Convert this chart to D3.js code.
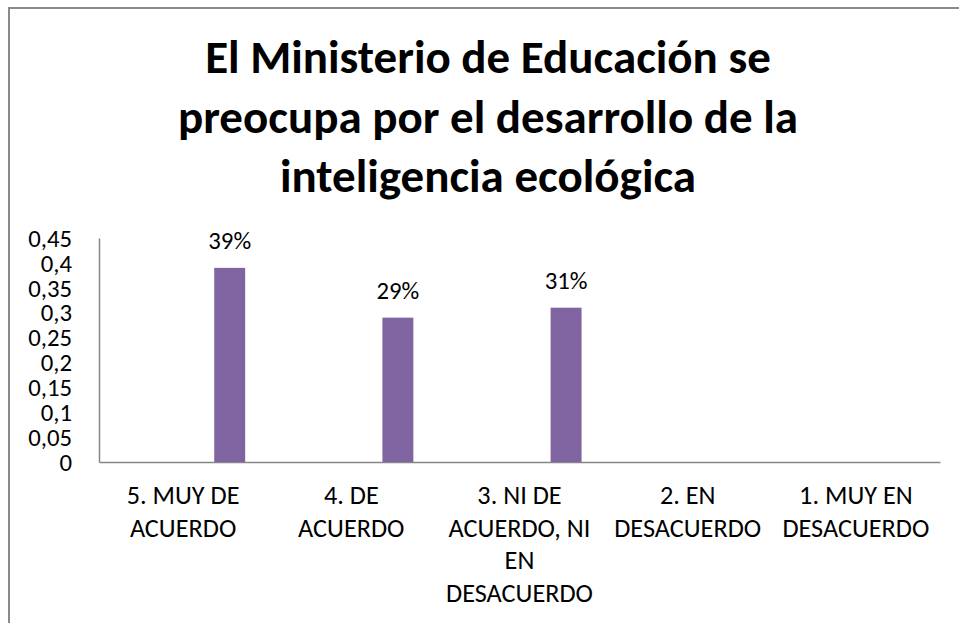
<!DOCTYPE html>
<html>
<head>
<meta charset="utf-8">
<title>Inteligencia ecológica</title>
<script src="https://cdn.jsdelivr.net/npm/d3@7"></script>
<style>
  body { margin: 0; background: #fff; }
  svg text { font-family: Carlito, Calibri, Roboto, sans-serif; fill: #000; }
</style>
</head>
<body>
<script>
// chart data
const titleLines = ["El Ministerio de Educación se", "preocupa por el desarrollo de la", "inteligencia ecológica"];
const categories = ["5. MUY DE ACUERDO", "4. DE ACUERDO", "3. NI DE ACUERDO, NI EN DESACUERDO", "2. EN DESACUERDO", "1. MUY EN DESACUERDO"];
const categoryLines = [["5. MUY DE", "ACUERDO"], ["4. DE", "ACUERDO"], ["3. NI DE", "ACUERDO, NI", "EN", "DESACUERDO"], ["2. EN", "DESACUERDO"], ["1. MUY EN", "DESACUERDO"]];
const values = [0.39, 0.29, 0.31, null, null];
const valueLabels = ["39%", "29%", "31%", "", ""];
const yTicks = [0, 0.05, 0.1, 0.15, 0.2, 0.25, 0.3, 0.35, 0.4, 0.45];

const W = 959, H = 623;
const plot = {left: 99, right: 940, top: 238, bottom: 462};
const axisColor = "#868686",
    barColor = "#8064a2";

const svg = d3.select("body").append("svg")
    .attr("width", W)
    .attr("height", H);

svg.append("rect").attr("width", W).attr("height", H).attr("fill", "#fff");

// outer frame (only top and left edges are visible)
svg.append("path")
    .attr("d", "M9," + H + "V8H" + W)
    .attr("fill", "none")
    .attr("stroke", "#8a8a8a")
    .attr("stroke-width", 2);

const x = d3.scaleBand().domain(categories).range([plot.left, plot.right]),
    y = d3.scaleLinear().domain([0, 0.45]).range([plot.bottom, plot.top]);

const fmt = d => String(d).replace(".", ",");

// title
const title = svg.append("g").attr("class", "title");
title.selectAll("text")
    .data(titleLines)
    .enter().append("text")
    .attr("x", 488)
    .attr("y", (d, i) => 73 + i * 59.5)
    .attr("text-anchor", "middle")
    .style("font-size", "47px")
    .style("font-weight", "bold")
    .text(d => d);

// y axis
const yAxisGroup = svg.append("g")
    .attr("transform", "translate(" + plot.left + ",0)")
    .call(d3.axisLeft(y).tickValues(yTicks).tickSize(0).tickPadding(27).tickFormat(fmt));
yAxisGroup.select(".domain").attr("stroke", axisColor).attr("stroke-width", 1.5);
yAxisGroup.selectAll("text")
    .attr("font-family", null)
    .attr("class", "small")
    .style("font-size", "25px")
    .attr("dy", "0.33em");

// x axis
const xAxisGroup = svg.append("g")
    .attr("transform", "translate(0," + plot.bottom + ")")
    .call(d3.axisBottom(x).tickSize(0).tickSizeOuter(0).tickFormat(""));
xAxisGroup.select(".domain").attr("stroke", axisColor).attr("stroke-width", 1.5);

const catLabels = svg.append("g").attr("class", "cat-labels");
categories.forEach((c, i) => {
    catLabels.selectAll(null)
        .data(categoryLines[i])
        .enter().append("text")
        .attr("class", "small")
        .attr("x", x(c) + x.bandwidth() / 2)
        .attr("y", (d, j) => plot.bottom + 42 + j * 32.5)
        .attr("text-anchor", "middle")
        .style("font-size", "26.5px")
        .text(d => d);
});

// bars
const barData = categories.map((c, i) => ({cat: c, value: values[i], label: valueLabels[i]}))
    .filter(d => d.value != null);

svg.append("g").selectAll("rect")
    .data(barData)
    .enter().append("rect")
    .attr("x", d => x(d.cat) + x.bandwidth() * 0.685)
    .attr("width", x.bandwidth() * 0.184)
    .attr("y", d => y(d.value))
    .attr("height", d => y(0) - y(d.value))
    .attr("fill", barColor);

svg.append("g").selectAll("text")
    .data(barData)
    .enter().append("text")
    .attr("class", "small")
    .attr("x", d => x(d.cat) + x.bandwidth() * (0.685 + 0.092))
    .attr("y", d => y(d.value) - 19)
    .attr("text-anchor", "middle")
    .style("font-size", "25px")
    .text(d => d.label);

// squeeze a wider fallback font to the narrower widths of the original
function condense(sel, k) {
    if (k >= 1) return;
    sel.each(function() {
        const len = this.getComputedTextLength();
        d3.select(this).attr("textLength", len * k).attr("lengthAdjust", "spacingAndGlyphs");
    });
}
const titleTexts = title.selectAll("text");
condense(titleTexts, 628 / titleTexts.nodes()[1].getComputedTextLength());

const ref = catLabels.selectAll("text").filter(d => d === "DESACUERDO").node();
condense(svg.selectAll("text.small"), 147 / ref.getComputedTextLength());
</script>
</body>
</html>
